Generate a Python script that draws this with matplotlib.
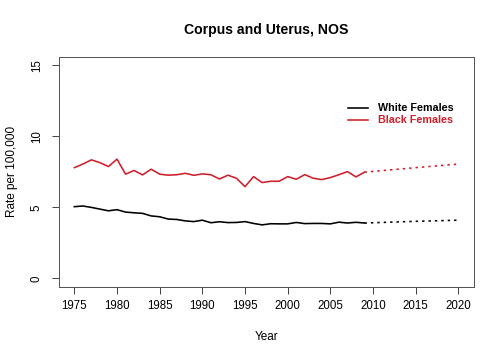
import matplotlib
matplotlib.use("Agg")
import matplotlib.pyplot as plt
from matplotlib.lines import Line2D

plt.rcParams['font.family'] = ['Liberation Sans', 'DejaVu Sans']

years = list(range(1975, 2010))
white = [5.05, 5.10, 5.00, 4.88, 4.76, 4.84, 4.67, 4.62, 4.58, 4.40,
         4.34, 4.18, 4.15, 4.05, 4.00, 4.10, 3.92, 3.99, 3.93, 3.94,
         4.00, 3.87, 3.77, 3.85, 3.84, 3.84, 3.94, 3.86, 3.87, 3.87,
         3.84, 3.96, 3.90, 3.95, 3.90]
black = [7.80, 8.05, 8.35, 8.15, 7.88, 8.40, 7.34, 7.60, 7.29, 7.69,
         7.34, 7.27, 7.30, 7.40, 7.26, 7.36, 7.30, 7.00, 7.27, 7.05,
         6.46, 7.17, 6.75, 6.84, 6.84, 7.17, 6.98, 7.31, 7.05, 6.96,
         7.10, 7.30, 7.52, 7.15, 7.48]
proj_years = [2009, 2015, 2020]
white_proj = [3.90, 4.02, 4.10]
black_proj = [7.48, 7.80, 8.05]

xticks = list(range(1975, 2021, 5))
yticks = [0, 5, 10, 15]
labels = ["White Females", "Black Females"]

BLACK = "#000000"
RED = "#CE1F2B"

fig = plt.figure(figsize=(7, 5), dpi=72)
ax = fig.add_axes([0.117, 0.203, 0.823, 0.639])

ax.plot(years, white, color=BLACK, lw=1.6)
ax.plot(years, black, color=RED, lw=1.6)
ax.plot(proj_years, white_proj, color=BLACK, lw=1.6, ls=(0, (1.5, 2.5)))
ax.plot(proj_years, black_proj, color=RED, lw=1.6, ls=(0, (1.5, 2.5)))

ax.set_xlim(1973.2, 2021.8)
ax.set_ylim(-0.6, 15.6)
ax.set_xticks(xticks)
ax.set_yticks(yticks)
ax.set_yticklabels([str(v) for v in yticks], rotation=90, va='center')
ax.tick_params(direction='out', length=7, width=0.9, labelsize=11.5, colors='#333333',
               labelcolor='black')
ax.tick_params(axis='x', pad=6)
ax.tick_params(axis='y', pad=9)
for s in ax.spines.values():
    s.set_color('#555555')
    s.set_linewidth(1.0)

ax.set_xlabel("Year", fontsize=11.8, va='center')
ax.xaxis.set_label_coords(0.5, -0.217)
ax.set_ylabel("Rate per 100,000", fontsize=11.8, va='center')
ax.yaxis.set_label_coords(-0.113, 0.5)
fig.text(0.5275, 1 - 30 / 360, "Corpus and Uterus, NOS", fontsize=14,
         fontweight='bold', ha='center', va='center')

# legend (manual, R-style, no frame)
for lab, c, yy in zip(labels, [BLACK, RED], [0.778, 0.726]):
    ax.add_line(Line2D([0.696, 0.745], [yy, yy], color=c, lw=1.6,
                       transform=ax.transAxes))
    ax.text(0.769, yy, lab, color=c, fontsize=10.7, fontweight='bold',
            va='center', ha='left', transform=ax.transAxes)

fig.savefig("out.png", dpi=72)
